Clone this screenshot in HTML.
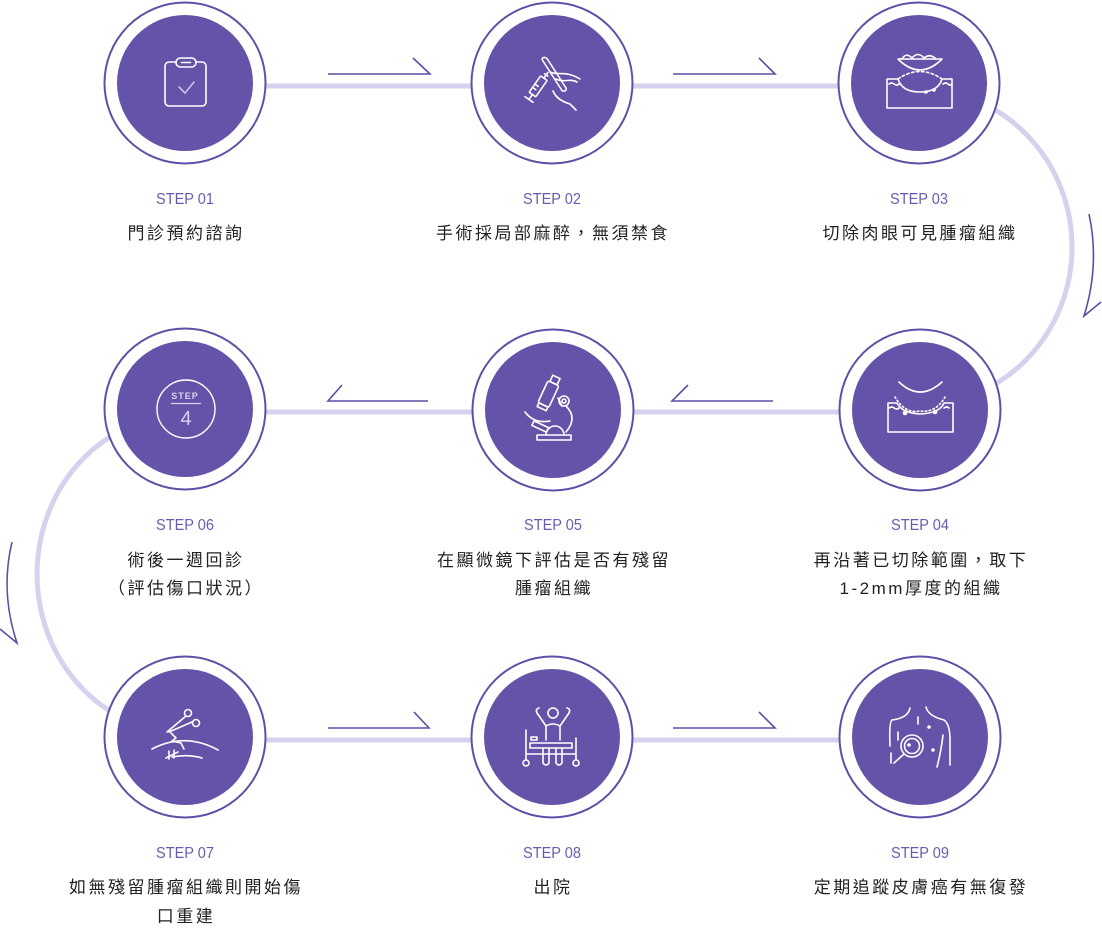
<!DOCTYPE html>
<html><head><meta charset="utf-8"><style>
html,body{margin:0;padding:0;background:#fff;}
svg{display:block;}
.st{font-family:"Liberation Sans",sans-serif;font-size:16px;fill:#6a5bb2;}
.tx{font-family:"Liberation Sans","Noto Sans CJK TC",sans-serif;font-size:17px;fill:#222;letter-spacing:2.5px;}
.ic{fill:none;stroke:#fff;stroke-width:1.6;stroke-linecap:round;stroke-linejoin:round;}
</style></head><body>
<svg width="1102" height="933" viewBox="0 0 1102 933" xmlns="http://www.w3.org/2000/svg">
<!-- connector lines -->
<g stroke="#d6d2ee" stroke-width="5" fill="none">
<line x1="185" y1="86" x2="919" y2="86"/>
<line x1="185" y1="412" x2="919" y2="412"/>
<line x1="185" y1="740" x2="919" y2="740"/>
<path d="M919,89 A153,158 0 0 1 919,405"/>
<path d="M185,415 A148,159 0 0 0 185,733"/>
</g>
<!-- arrows -->
<g stroke="#5c4ea8" stroke-width="1.6" fill="none">
<path d="M328,74 H430 L413,58"/>
<path d="M673,74 H775 L759,58"/>
<path d="M428,401 H328 L342,385"/>
<path d="M773,401 H672 L688,385"/>
<path d="M328,728 H429 L414,712"/>
<path d="M673,728 H775 L759,712"/>
<path d="M1089,214 Q1100,265 1084,316 L1101,302"/>
<path d="M12,542 Q0,592 17,643 L0,629"/>
</g>
<!-- circles -->
<g>
<g id="c">
</g>
<circle cx="185" cy="83" r="80.5" fill="#fff" stroke="#5f4fa6" stroke-width="2"/><circle cx="185" cy="83" r="68" fill="#6453a8"/>
<circle cx="552" cy="83" r="80.5" fill="#fff" stroke="#5f4fa6" stroke-width="2"/><circle cx="552" cy="83" r="68" fill="#6453a8"/>
<circle cx="919" cy="83" r="80.5" fill="#fff" stroke="#5f4fa6" stroke-width="2"/><circle cx="919" cy="83" r="68" fill="#6453a8"/>
<circle cx="185" cy="409" r="80.5" fill="#fff" stroke="#5f4fa6" stroke-width="2"/><circle cx="185" cy="409" r="68" fill="#6453a8"/>
<circle cx="553" cy="410" r="80.5" fill="#fff" stroke="#5f4fa6" stroke-width="2"/><circle cx="553" cy="410" r="68" fill="#6453a8"/>
<circle cx="920" cy="410" r="80.5" fill="#fff" stroke="#5f4fa6" stroke-width="2"/><circle cx="920" cy="410" r="68" fill="#6453a8"/>
<circle cx="185" cy="737" r="80.5" fill="#fff" stroke="#5f4fa6" stroke-width="2"/><circle cx="185" cy="737" r="68" fill="#6453a8"/>
<circle cx="552" cy="737" r="80.5" fill="#fff" stroke="#5f4fa6" stroke-width="2"/><circle cx="552" cy="737" r="68" fill="#6453a8"/>
<circle cx="920" cy="737" r="80.5" fill="#fff" stroke="#5f4fa6" stroke-width="2"/><circle cx="920" cy="737" r="68" fill="#6453a8"/>
</g>
<!-- icon 1 clipboard -->
<g class="ic">
<rect x="165" y="62" width="41" height="44" rx="4"/>
<rect x="176" y="58" width="20" height="9" rx="4.5" fill="#6453a8"/>
<line x1="181.5" y1="62.5" x2="190.5" y2="62.5"/>
<path d="M179,87 L185,93 L194,82" stroke="#c9c2e8"/>
</g>
<!-- icon 2 syringe & suture -->
<g class="ic" stroke-width="1.4">
<g transform="translate(537,88) rotate(35)">
<rect x="-4" y="-12" width="8" height="20" rx="1"/>
<line x1="0" y1="-12" x2="0" y2="-19"/>
<line x1="-2" y1="-16" x2="2" y2="-16"/>
<line x1="0" y1="8" x2="0" y2="14"/>
<line x1="-5" y1="14" x2="5" y2="14"/>
<line x1="-4" y1="-2" x2="0" y2="-2"/>
<line x1="-4" y1="2" x2="0" y2="2"/>
</g>
<path d="M543,61 C540,57 546,56 548,60 L566,88 C567,92 562,92 561,89 Z"/>
<path d="M550,72 C558,76 565,70 580,79"/>
<path d="M556,79 C564,83 570,78 577,82"/>
<path d="M553,91 C556,98 563,102 570,104 L576,110"/>
</g>
<!-- icon 3 -->
<g class="ic" stroke-width="1.4">
<path d="M898,59 Q920,81 942,59 Z"/>
<path d="M902,59 Q906,52 912,58 Q918,51 924,58 Q930,53 936,59"/>
<path d="M887,79 V108 H952 V79 H942 Q938,92 920,92 Q902,92 898,79 Z"/>
<path d="M898,79 Q920,64 942,79" stroke-dasharray="2.5,2.5"/>
<path d="M889,84 q3,-2 5,0 q3,2 5,0"/>
<path d="M943,84 q3,-2 5,0 q2,2 4,0"/>
<circle cx="926" cy="92" r="1" fill="#fff"/><circle cx="934" cy="90" r="1" fill="#fff"/>
</g>
<!-- icon 4 -->
<g class="ic" stroke-width="1.4">
<path d="M899,382 Q920,402 942,382"/>
<path d="M888,403 V432 H953 V403 H944 Q940,413 920,414 Q902,413 897,403 Z"/>
<path d="M895,397 Q905,414 920,411 Q936,413 945,397" stroke-dasharray="1.5,2.5"/>
<path d="M889,408 q3,-2 5,0 q3,2 5,0"/>
<path d="M944,408 q3,-2 5,0"/>
<circle cx="905" cy="413" r="1.5" fill="#fff"/><circle cx="935" cy="412" r="1.5" fill="#fff"/>
</g>
<!-- icon 5 microscope -->
<g class="ic" stroke-width="1.4">
<rect x="537" y="435" width="34" height="5"/>
<path d="M546,435 A9,9 0 0 1 564,435"/>
<g transform="rotate(25 548 395)"><rect x="542" y="382" width="12" height="24" rx="2"/><rect x="544" y="375" width="8" height="7"/><rect x="543" y="406" width="10" height="4"/></g>
<circle cx="564" cy="401" r="5"/><circle cx="564" cy="401" r="2"/>
<path d="M566,406 Q578,418 566,432"/>
<path d="M558,398 L562,406"/>
<g transform="rotate(25 540 427)"><rect x="532" y="424" width="16" height="5"/></g>
<path d="M525,412 Q534,424 550,421"/>
</g>
<!-- icon 6 STEP 4 -->
<g>
<circle cx="186" cy="409" r="29" fill="none" stroke="#fff" stroke-width="1.4"/>
<text x="185" y="399" text-anchor="middle" font-family="Liberation Sans,sans-serif" font-size="9" font-weight="bold" fill="#d8d3f0" letter-spacing="1">STEP</text>
<line x1="171" y1="403.5" x2="201" y2="403.5" stroke="#d8d3f0" stroke-width="1.3"/>
<text x="186" y="425" text-anchor="middle" font-family="Liberation Sans,sans-serif" font-size="20" fill="#d8d3f0">4</text>
</g>
<!-- icon 7 -->
<g class="ic" stroke-width="1.4">
<path d="M152,749 Q185,732 218,750"/>
<path d="M172,757 Q188,754 202,758"/>
<path d="M166,758 L178,752 M169,751 V759 M174,750 V758"/>
<circle cx="188" cy="713" r="3.5"/><circle cx="196" cy="723" r="3.5"/>
<path d="M186,716 L167,732 M192,722 L169,732"/>
<path d="M171,733 L176,738 L172,741 L181,743 L184,749"/>
</g>
<!-- icon 8 -->
<g class="ic" stroke-width="1.4">
<circle cx="553" cy="713" r="5"/>
<path d="M537,713 L546,726 L546,740 M569,713 L560,726 L560,740 M546,726 Q553,722 560,726"/>
<path d="M537,713 q-2,-4 2,-5 M569,713 q2,-4 -2,-5"/>
<rect x="530" y="743" width="42" height="5"/>
<path d="M526,730 V760 M576,738 V760 M526,754 H576"/>
<circle cx="526" cy="763" r="3"/><circle cx="576" cy="763" r="3"/>
<rect x="531" y="737" width="6" height="3"/>
<path d="M543,748 V763 Q546,767 549,763 V748 M556,748 V763 Q559,767 562,763 V748"/>
</g>
<!-- icon 9 -->
<g class="ic" stroke-width="1.4">
<path d="M910,708 Q908,718 892,720 Q889,722 890,746 M891,753 V763"/>
<path d="M926,707 Q928,716 944,720 Q950,724 950,740 V765"/>
<path d="M943,735 Q941,752 937,767"/>
<path d="M918,717 V724 M898,732 V740"/>
<circle cx="912" cy="746" r="11"/><circle cx="912" cy="746" r="7.5"/>
<path d="M904,754 L894,763"/>
<circle cx="929" cy="727" r="1" fill="#fff"/><circle cx="933" cy="750" r="1" fill="#fff"/><circle cx="909" cy="745" r="1" fill="#fff"/>
</g>
<!-- labels -->
<g class="st" text-anchor="middle">
<text x="185" y="204" textLength="58" lengthAdjust="spacingAndGlyphs">STEP 01</text>
<text x="552" y="204" textLength="58" lengthAdjust="spacingAndGlyphs">STEP 02</text>
<text x="919" y="204" textLength="58" lengthAdjust="spacingAndGlyphs">STEP 03</text>
<text x="185" y="530" textLength="58" lengthAdjust="spacingAndGlyphs">STEP 06</text>
<text x="553" y="530" textLength="58" lengthAdjust="spacingAndGlyphs">STEP 05</text>
<text x="920" y="530" textLength="58" lengthAdjust="spacingAndGlyphs">STEP 04</text>
<text x="185" y="858" textLength="58" lengthAdjust="spacingAndGlyphs">STEP 07</text>
<text x="552" y="858" textLength="58" lengthAdjust="spacingAndGlyphs">STEP 08</text>
<text x="920" y="858" textLength="58" lengthAdjust="spacingAndGlyphs">STEP 09</text>
</g>
<g class="tx" text-anchor="middle">
<text x="186" y="239">門診預約諮詢</text>
<text x="553" y="239">手術採局部麻醉，無須禁食</text>
<text x="920" y="239">切除肉眼可見腫瘤組織</text>
<text x="186" y="566">術後一週回診</text>
<text x="186" y="594">（評估傷口狀況）</text>
<text x="554" y="566">在顯微鏡下評估是否有殘留</text>
<text x="554" y="594">腫瘤組織</text>
<text x="921" y="566">再沿著已切除範圍，取下</text>
<text x="921" y="594">1-2mm厚度的組織</text>
<text x="186" y="893">如無殘留腫瘤組織則開始傷</text>
<text x="186" y="922">口重建</text>
<text x="553" y="893">出院</text>
<text x="921" y="893">定期追蹤皮膚癌有無復發</text>
</g>
</svg>
</body></html>
